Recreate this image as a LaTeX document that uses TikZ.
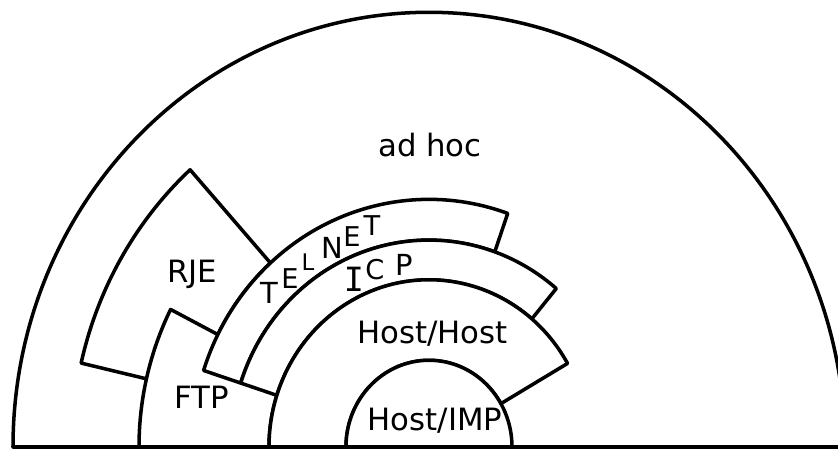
\documentclass[tikz,border=0pt]{standalone}
\usepackage{fontspec}
\setmainfont{DejaVu Sans}
\newfontfamily\stencilI{DejaVu Sans Mono}
\usetikzlibrary{calc}

\begin{document}
\begin{tikzpicture}[x=0.2mm, y=0.2mm, line cap=round, line join=round,
	layer/.style={draw=black, fill=white, line width=2pt},
	lbl/.style={inner sep=0pt, font=\fontsize{17.5}{20}\selectfont},
	arclbl/.style={inner sep=0pt}]
	
	% ----------------------------
	% 0) Canvas box
	% ----------------------------
	\useasboundingbox (0,0) rectangle (838,449);
	\clip (0,0) rectangle (838,449);
	\coordinate (C) at (429,2);
	\def\k{1.045}   % the rings are a bit taller than wide
	
	% part of a ring: inner radius, outer radius, start angle, end angle
	\def\ringpart#1#2#3#4{%
		\filldraw[layer] (#3:#2) arc[start angle=#3, end angle=#4, radius=#2]
		-- (#4:#1) arc[start angle=#4, end angle=#3, radius=#1] -- cycle;}
	
	\begin{scope}[shift={(C)}, yscale=\k]
		% ----------------------------
		% 1) Outer half (ad hoc)
		% ----------------------------
		\filldraw[layer] (-416,0) arc[start angle=180, end angle=0, radius=416] -- cycle;
		
		% ----------------------------
		% 2) RJE and FTP
		% ----------------------------
		\ringpart{237}{357}{132}{167}
		\ringpart{160}{290}{153}{180}
		
		% ----------------------------
		% 3) TELNET and ICP
		% ----------------------------
		\ringpart{198}{237}{70.6}{162}
		\ringpart{160}{198}{50}{162}
		
		% ----------------------------
		% 4) Host/Host and Host/IMP
		% ----------------------------
		\ringpart{83}{160}{30}{180}
		\filldraw[layer] (83,0) arc[start angle=0, end angle=180, radius=83] -- cycle;
	\end{scope}
	
	% ----------------------------
	% 5) Labels
	% ----------------------------
	\node[lbl] (adhoc) at (430,304) {ad hoc};
	\node[lbl] (rje) at (192,174.5) {RJE};
	\node[lbl] (ftp) at (202,51.5) {FTP};
	\node[lbl] (hosthost) at (432.5,115.5) {Host/Host};
	\node[lbl] (hostimp) at (435,28) {Host/IMP};
	
	% letters stepping up along the rings
	\foreach \ch/\x/\y/\s [count=\i] in {T/269/156/16.5, E/290/170/15.5, L/308/187/13,
		N/332/201/16.5, E/352/212/15.5, T/372/223/15.5}{
		\node[arclbl, font=\fontsize{\s}{\s}\selectfont] (telnet\i) at (\x,\y) {\ch};
	}
	\node[arclbl, font=\stencilI\fontsize{19}{19}\selectfont] (icp1) at (354,170) {I};
	\node[arclbl, font=\fontsize{15.5}{15.5}\selectfont] (icp2) at (375,179) {C};
	\node[arclbl, font=\fontsize{16.5}{16.5}\selectfont] (icp3) at (404,184) {P};
	
\end{tikzpicture}
\end{document}
